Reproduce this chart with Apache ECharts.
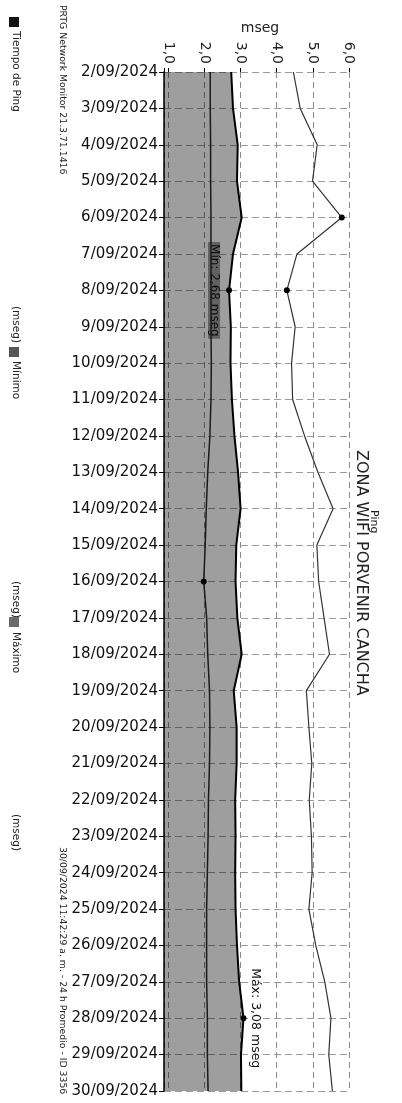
<!DOCTYPE html>
<html>
<head>
<meta charset="utf-8">
<title>Ping ZONA WIFI PORVENIR CANCHA</title>
<script src="https://cdn.jsdelivr.net/npm/echarts@6/dist/echarts.min.js"></script>
<style>
  html, body { margin: 0; padding: 0; background: #fff; }
  #chart { width: 402px; height: 1103px; }
</style>
</head>
<body>
<div id="chart"></div>
<script>
// dias del informe (eje de categorias, de arriba hacia abajo)
const dias = [
  '2/09/2024', '3/09/2024', '4/09/2024', '5/09/2024', '6/09/2024', '7/09/2024',
  '8/09/2024', '9/09/2024', '10/09/2024', '11/09/2024', '12/09/2024', '13/09/2024',
  '14/09/2024', '15/09/2024', '16/09/2024', '17/09/2024', '18/09/2024', '19/09/2024',
  '20/09/2024', '21/09/2024', '22/09/2024', '23/09/2024', '24/09/2024', '25/09/2024',
  '26/09/2024', '27/09/2024', '28/09/2024', '29/09/2024', '30/09/2024'
];
// mseg, promedio de 24 h
const tiempoPing = [
  2.74, 2.79, 2.92, 2.90, 3.03, 2.79, 2.68, 2.73, 2.72, 2.76,
  2.83, 2.93, 3.00, 2.88, 2.86, 2.91, 3.03, 2.81, 2.89, 2.89,
  2.85, 2.86, 2.85, 2.86, 2.90, 2.96, 3.08, 3.01, 3.02
];
const minimo = [
  2.16, 2.16, 2.17, 2.17, 2.18, 2.18, 2.18, 2.18, 2.19, 2.18,
  2.15, 2.09, 2.05, 2.02, 1.98, 2.06, 2.09, 2.14, 2.15, 2.14,
  2.11, 2.10, 2.08, 2.06, 2.06, 2.06, 2.08, 2.08, 2.10
];
const maximo = [
  4.46, 4.65, 5.12, 4.99, 5.80, 4.56, 4.28, 4.51, 4.41, 4.44,
  4.77, 5.14, 5.56, 5.11, 5.16, 5.31, 5.46, 4.82, 4.89, 4.97,
  4.90, 4.96, 4.98, 4.89, 5.08, 5.33, 5.50, 5.44, 5.54
];
// etiquetas del eje de valores (mseg)
const valorTicks = [1, 2, 3, 4, 5, 6];

const FONT = '"DejaVu Sans", Verdana, sans-serif';
const ROT = -Math.PI / 2; // texto girado en sentido horario

function vText(x, y, text, size, extra) {
  return {
    type: 'text', x: x, y: y, rotation: ROT, silent: true,
    style: Object.assign({
      text: text, fill: '#222', fontSize: size, fontFamily: FONT,
      align: 'left', verticalAlign: 'middle'
    }, extra || {})
  };
}
function square(x, y, color) {
  return { type: 'rect', silent: true, shape: { x: x, y: y, width: 10, height: 10 }, style: { fill: color } };
}
const comma = (v, d) => v.toFixed(d).replace('.', ',');

const chart = echarts.init(document.getElementById('chart'));

const marker = {
  symbol: 'circle', symbolSize: 6,
  itemStyle: { color: '#000' },
  label: { show: false }
};

chart.setOption({
  animation: false,
  backgroundColor: '#fff',
  textStyle: { fontFamily: FONT },
  grid: { left: 164, right: 53, top: 72, bottom: 12, containLabel: false },
  xAxis: {
    type: 'value',
    position: 'top',
    min: 0.88,
    max: 6,
    minInterval: 1,
    maxInterval: 1,
    axisLine: { onZero: false, lineStyle: { color: '#000', width: 1 } },
    axisTick: { show: true, length: 4, lineStyle: { color: '#000' } },
    axisLabel: { show: false },
    splitLine: { show: true, lineStyle: { color: '#8a8a8a', type: [6, 4], width: 1 } }
  },
  yAxis: {
    type: 'category',
    data: dias,
    inverse: true,
    boundaryGap: false,
    axisLine: { onZero: false, lineStyle: { color: '#000', width: 1.5 } },
    axisTick: { show: true, length: 5, lineStyle: { color: '#000' } },
    axisLabel: { margin: 6, fontSize: 15, color: '#111', fontFamily: FONT },
    splitLine: { show: true, lineStyle: { color: '#9a9a9a', type: [7, 4], width: 1 } }
  },
  series: [
    {
      name: 'Tiempo de Ping',
      type: 'line',
      data: tiempoPing,
      symbol: 'none',
      lineStyle: { color: '#000', width: 2 },
      areaStyle: { color: 'rgba(0,0,0,0.38)', opacity: 1 },
      z: 2,
      markPoint: Object.assign({ data: [{ type: 'min' }, { type: 'max' }] }, marker)
    },
    {
      name: 'Mínimo',
      type: 'line',
      data: minimo,
      symbol: 'none',
      lineStyle: { color: '#1a1a1a', width: 1.5 },
      z: 3,
      markPoint: Object.assign({ data: [{ type: 'min' }] }, marker)
    },
    {
      name: 'Máximo',
      type: 'line',
      data: maximo,
      symbol: 'none',
      lineStyle: { color: '#333', width: 1.2 },
      z: 3,
      markPoint: Object.assign({ data: [{ type: 'min' }, { type: 'max' }] }, marker)
    }
  ]
});

// etiquetas Mín / Máx junto a los puntos del tiempo de ping
const iMin = tiempoPing.indexOf(Math.min(...tiempoPing));
const iMax = tiempoPing.indexOf(Math.max(...tiempoPing));
const pMin = chart.convertToPixel({ seriesIndex: 0 }, [tiempoPing[iMin], iMin]);
const pMax = chart.convertToPixel({ seriesIndex: 0 }, [tiempoPing[iMax], iMax]);
const ejeTop = chart.convertToPixel({ seriesIndex: 0 }, [1, 0])[1];

// etiquetas del eje superior, giradas como en el informe
const tickLabels = valorTicks.map(v =>
  vText(chart.convertToPixel({ xAxisIndex: 0 }, v), ejeTop - 8, comma(v, 1), 14, { align: 'right' })
);

chart.setOption({
  graphic: tickLabels.concat([
    // nombre del eje de valores
    { type: 'text', x: 260, y: 28, silent: true,
      style: { text: 'mseg', fontSize: 14, fontFamily: FONT, fill: '#222', align: 'center', verticalAlign: 'middle' } },
    // leyenda
    square(9, 17, '#111'),
    vText(16, 31, 'Tiempo de Ping', 10.5),
    vText(16, 306, '(mseg)', 10.5),
    square(9, 347, '#555'),
    vText(16, 361, 'Mínimo', 10.5),
    vText(16, 581, '(mseg)', 10.5),
    square(9, 617, '#6a6a6a'),
    vText(16, 632, 'Máximo', 10.5),
    vText(16, 814, '(mseg)', 10.5),
    // pies
    vText(62, 5, 'PRTG Network Monitor 21.3.71.1416', 9.3),
    vText(62, 847, '30/09/2024 11:42:29 a. m. - 24 h Promedio - ID 3356', 9.3),
    // titulo
    vText(373.5, 510, 'Ping', 11),
    vText(361, 450, 'ZONA WIFI PORVENIR CANCHA', 16),
    // anotaciones
    vText(pMin[0] - 15, pMin[1], 'Mín: ' + comma(tiempoPing[iMin], 2) + ' mseg', 12,
      { align: 'center', backgroundColor: '#9e9e9e', padding: [0, 2], fill: '#111' }),
    vText(pMax[0] + 12, pMax[1], 'Máx: ' + comma(tiempoPing[iMax], 2) + ' mseg', 12.5,
      { align: 'center', backgroundColor: '#fff', padding: [0, 2], fill: '#111' })
  ])
});

window.addEventListener('resize', () => chart.resize());
</script>
</body>
</html>
